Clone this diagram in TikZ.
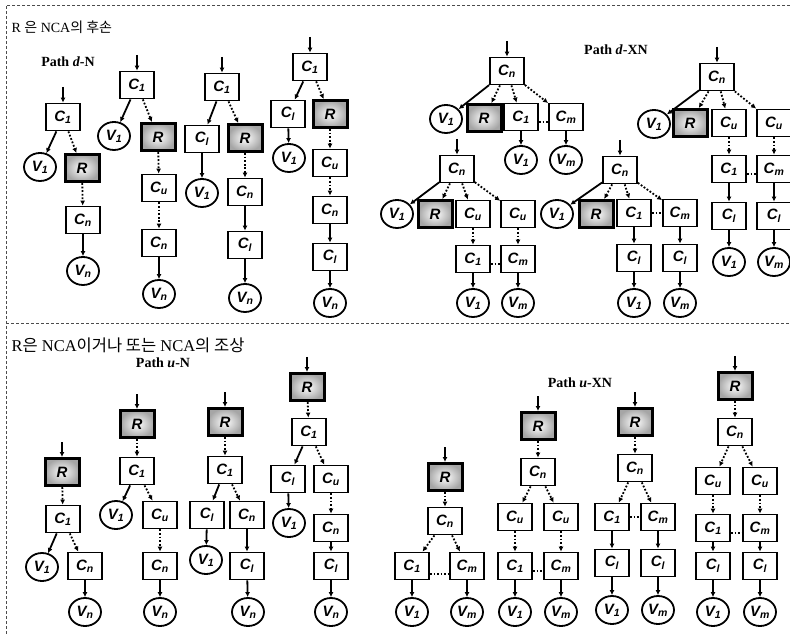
\documentclass[tikz,border=0pt]{standalone}
\usepackage{fontspec}
\setmainfont{Liberation Serif}
\newfontfamily\kr{Noto Sans CJK KR}
\newfontfamily\nodefont{Liberation Sans}
\usetikzlibrary{arrows.meta,shapes.geometric}
\tikzset{
  box/.style={draw, line width=1.8pt, minimum width=34pt, minimum height=27pt, inner sep=0pt, fill=white, font=\nodefont\bfseries\itshape\fontsize{15}{15}\selectfont},
  rbox/.style={box, line width=3pt, shade, shading=radial, inner color=white, outer color=black!35},
  vtx/.style={ellipse, draw, line width=1.8pt, minimum width=32pt, minimum height=28pt, inner sep=0pt, fill=white, font=\nodefont\bfseries\itshape\fontsize{15}{15}\selectfont},
  sarr/.style={-{Latex[length=5pt,width=5pt]}, line width=1.8pt},
  darr/.style={-{Latex[length=5pt,width=5pt]}, line width=1.8pt, dash pattern=on 1.8pt off 1.8pt},
  gap/.style={line width=1.6pt, dash pattern=on 1.6pt off 2pt},
  frame/.style={line width=0.7pt, black!70, densely dashed},
  ttl/.style={anchor=west, font=\fontsize{14}{14}\selectfont},
  pathlbl/.style={font=\bfseries\fontsize{14}{14}\selectfont},
}
\newcommand{\lbl}[2]{#1\textsubscript{#2}}

\begin{document}
\begin{tikzpicture}[x=1pt, y=-1pt]
\useasboundingbox (0,0) rectangle (790,636);
% frame
\draw[frame] (790,5) -- (6,5) -- (6,636);
\draw[frame] (6,323) -- (790,323);
\node[ttl] (top) at (8,27) {R {\kr 은} NCA{\kr 의 후손}};
\node[ttl, font=\fontsize{16.5}{16.5}\selectfont] (bot) at (8,345) {R{\kr 은} NCA{\kr 이거나 또는} NCA{\kr 의 조상}};
\node[pathlbl] (pdn) at (68,62) {Path \textit{d}-N};
\node[pathlbl] (pdxn) at (616,50) {Path \textit{d}-XN};
\node[pathlbl] (pun) at (163,363) {Path \textit{u}-N};
\node[pathlbl] (puxn) at (580,383) {Path \textit{u}-XN};

% ---- Path d-N ----
\coordinate (t1in) at (63,87);
\node[box] (t1c1) at (63,117) {\lbl{C}{1}};
\node[vtx] (t1v1) at (40,167) {\lbl{V}{1}};
\node[rbox] (t1r) at (82,168) {R};
\node[box] (t1cn) at (83,220) {\lbl{C}{n}};
\node[vtx] (t1vn) at (83,271) {\lbl{V}{n}};
\draw[sarr] (t1in) -- (t1c1);
\draw[sarr] (t1c1) -- (t1v1);
\draw[darr] (t1c1) -- (t1r);
\draw[darr] (t1r) -- (t1cn);
\draw[sarr] (t1cn) -- (t1vn);

\coordinate (t2in) at (137,55);
\node[box] (t2c1) at (137,85) {\lbl{C}{1}};
\node[vtx] (t2v1) at (114,136) {\lbl{V}{1}};
\node[rbox] (t2r) at (158,137) {R};
\node[box] (t2cu) at (159,188) {\lbl{C}{u}};
\node[box] (t2cn) at (159,243) {\lbl{C}{n}};
\node[vtx] (t2vn) at (159,294) {\lbl{V}{n}};
\draw[sarr] (t2in) -- (t2c1);
\draw[sarr] (t2c1) -- (t2v1);
\draw[darr] (t2c1) -- (t2r);
\draw[darr] (t2r) -- (t2cu);
\draw[darr] (t2cu) -- (t2cn);
\draw[sarr] (t2cn) -- (t2vn);

\coordinate (t3in) at (222,57);
\node[box] (t3c1) at (222,87) {\lbl{C}{1}};
\node[box] (t3cl) at (202,139) {\lbl{C}{l}};
\node[rbox] (t3r) at (245,138) {R};
\node[vtx] (t3v1) at (202,193) {\lbl{V}{1}};
\node[box] (t3cn) at (245,192) {\lbl{C}{n}};
\node[box] (t3cl2) at (245,245) {\lbl{C}{l}};
\node[vtx] (t3vn) at (245,298) {\lbl{V}{n}};
\draw[sarr] (t3in) -- (t3c1);
\draw[sarr] (t3c1) -- (t3cl);
\draw[darr] (t3c1) -- (t3r);
\draw[sarr] (t3cl) -- (t3v1);
\draw[darr] (t3r) -- (t3cn);
\draw[sarr] (t3cn) -- (t3cl2);
\draw[sarr] (t3cl2) -- (t3vn);

\coordinate (t4in) at (310,37);
\node[box] (t4c1) at (310,67) {\lbl{C}{1}};
\node[box] (t4cl) at (288,114) {\lbl{C}{l}};
\node[rbox] (t4r) at (330,114) {R};
\node[vtx] (t4v1) at (289,158) {\lbl{V}{1}};
\node[box] (t4cu) at (330,163) {\lbl{C}{u}};
\node[box] (t4cn) at (330,210) {\lbl{C}{n}};
\node[box] (t4cl2) at (330,257) {\lbl{C}{l}};
\node[vtx] (t4vn) at (330,303) {\lbl{V}{n}};
\draw[sarr] (t4in) -- (t4c1);
\draw[sarr] (t4c1) -- (t4cl);
\draw[darr] (t4c1) -- (t4r);
\draw[sarr] (t4cl) -- (t4v1);
\draw[darr] (t4r) -- (t4cu);
\draw[darr] (t4cu) -- (t4cn);
\draw[sarr] (t4cn) -- (t4cl2);
\draw[sarr] (t4cl2) -- (t4vn);

% ---- Path d-XN ----
\coordinate (t5in) at (507,41);
\node[box] (t5cn) at (507,71) {\lbl{C}{n}};
\node[vtx] (t5v1) at (446,119) {\lbl{V}{1}};
\node[rbox] (t5r) at (484,118) {R};
\node[box] (t5c1) at (521,117) {\lbl{C}{1}};
\node[box] (t5cm) at (566,117) {\lbl{C}{m}};
\node[vtx] (t5v1b) at (521,160) {\lbl{V}{1}};
\node[vtx] (t5vm) at (566,160) {\lbl{V}{m}};
\draw[sarr] (t5in) -- (t5cn);
\draw[sarr] (t5cn) -- (t5v1);
\draw[darr] (t5cn) -- (t5r);
\draw[darr] (t5cn) -- (t5c1);
\draw[darr] (t5cn) -- (t5cm);
\draw[sarr] (t5c1) -- (t5v1b);
\draw[sarr] (t5cm) -- (t5vm);
\draw[gap] ([yshift=-5pt]t5c1.east) -- ([yshift=-5pt]t5cm.west);

\coordinate (t6in) at (457,139);
\node[box] (t6cn) at (457,169) {\lbl{C}{n}};
\node[vtx] (t6v1) at (397,214) {\lbl{V}{1}};
\node[rbox] (t6r) at (435,214) {R};
\node[box] (t6cu) at (473,214) {\lbl{C}{u}};
\node[box] (t6cu2) at (518,214) {\lbl{C}{u}};
\node[box] (t6c1) at (473,259) {\lbl{C}{1}};
\node[box] (t6cm) at (518,259) {\lbl{C}{m}};
\node[vtx] (t6v1b) at (473,303) {\lbl{V}{1}};
\node[vtx] (t6vm) at (518,303) {\lbl{V}{m}};
\draw[sarr] (t6in) -- (t6cn);
\draw[sarr] (t6cn) -- (t6v1);
\draw[darr] (t6cn) -- (t6r);
\draw[darr] (t6cn) -- (t6cu);
\draw[darr] (t6cn) -- (t6cu2);
\draw[darr] (t6cu) -- (t6c1);
\draw[darr] (t6cu2) -- (t6cm);
\draw[sarr] (t6c1) -- (t6v1b);
\draw[sarr] (t6cm) -- (t6vm);
\draw[gap] ([yshift=-5pt]t6c1.east) -- ([yshift=-5pt]t6cm.west);

\coordinate (t7in) at (620,140);
\node[box] (t7cn) at (620,170) {\lbl{C}{n}};
\node[vtx] (t7v1) at (557,214) {\lbl{V}{1}};
\node[rbox] (t7r) at (596,214) {R};
\node[box] (t7c1) at (634,213) {\lbl{C}{1}};
\node[box] (t7cm) at (680,213) {\lbl{C}{m}};
\node[box] (t7cl) at (634,258) {\lbl{C}{l}};
\node[box] (t7cl2) at (680,258) {\lbl{C}{l}};
\node[vtx] (t7v1b) at (634,303) {\lbl{V}{1}};
\node[vtx] (t7vm) at (680,303) {\lbl{V}{m}};
\draw[sarr] (t7in) -- (t7cn);
\draw[sarr] (t7cn) -- (t7v1);
\draw[darr] (t7cn) -- (t7r);
\draw[darr] (t7cn) -- (t7c1);
\draw[darr] (t7cn) -- (t7cm);
\draw[sarr] (t7c1) -- (t7cl);
\draw[sarr] (t7cm) -- (t7cl2);
\draw[sarr] (t7cl) -- (t7v1b);
\draw[sarr] (t7cl2) -- (t7vm);
\draw[gap] (t7c1.east) -- (t7cm.west);

\coordinate (t8in) at (717,47);
\node[box] (t8cn) at (717,77) {\lbl{C}{n}};
\node[vtx] (t8v1) at (654,124) {\lbl{V}{1}};
\node[rbox] (t8r) at (690,123) {R};
\node[box] (t8cu) at (729,123) {\lbl{C}{u}};
\node[box] (t8cu2) at (774,123) {\lbl{C}{u}};
\node[box] (t8c1) at (729,169) {\lbl{C}{1}};
\node[box] (t8cm) at (774,169) {\lbl{C}{m}};
\node[box] (t8cl) at (729,216) {\lbl{C}{l}};
\node[box] (t8cl2) at (774,216) {\lbl{C}{l}};
\node[vtx] (t8v1b) at (729,262) {\lbl{V}{1}};
\node[vtx] (t8vm) at (774,262) {\lbl{V}{m}};
\draw[sarr] (t8in) -- (t8cn);
\draw[sarr] (t8cn) -- (t8v1);
\draw[darr] (t8cn) -- (t8r);
\draw[darr] (t8cn) -- (t8cu);
\draw[darr] (t8cn) -- (t8cu2);
\draw[darr] (t8cu) -- (t8c1);
\draw[darr] (t8cu2) -- (t8cm);
\draw[sarr] (t8c1) -- (t8cl);
\draw[sarr] (t8cm) -- (t8cl2);
\draw[sarr] (t8cl) -- (t8v1b);
\draw[sarr] (t8cl2) -- (t8vm);
\draw[gap] ([yshift=-5pt]t8c1.east) -- ([yshift=-5pt]t8cm.west);

% ---- Path u-N ----
\coordinate (t9in) at (62,442);
\node[rbox] (t9r) at (62,472) {R};
\node[box] (t9c1) at (63,519) {\lbl{C}{1}};
\node[vtx] (t9v1) at (42,567) {\lbl{V}{1}};
\node[box] (t9cn) at (85,566) {\lbl{C}{n}};
\node[vtx] (t9vn) at (85,612) {\lbl{V}{n}};
\draw[sarr] (t9in) -- (t9r);
\draw[darr] (t9r) -- (t9c1);
\draw[sarr] (t9c1) -- (t9v1);
\draw[darr] (t9c1) -- (t9cn);
\draw[sarr] (t9cn) -- (t9vn);

\coordinate (t10in) at (137,394);
\node[rbox] (t10r) at (137,424) {R};
\node[box] (t10c1) at (137,471) {\lbl{C}{1}};
\node[vtx] (t10v1) at (116,515) {\lbl{V}{1}};
\node[box] (t10cu) at (160,515) {\lbl{C}{u}};
\node[box] (t10cn) at (160,566) {\lbl{C}{n}};
\node[vtx] (t10vn) at (160,612) {\lbl{V}{n}};
\draw[sarr] (t10in) -- (t10r);
\draw[darr] (t10r) -- (t10c1);
\draw[sarr] (t10c1) -- (t10v1);
\draw[darr] (t10c1) -- (t10cu);
\draw[darr] (t10cu) -- (t10cn);
\draw[sarr] (t10cn) -- (t10vn);

\coordinate (t11in) at (225,392);
\node[rbox] (t11r) at (225,422) {R};
\node[box] (t11c1) at (225,470) {\lbl{C}{1}};
\node[box] (t11cl) at (207,515) {\lbl{C}{l}};
\node[box] (t11cn) at (247,515) {\lbl{C}{n}};
\node[vtx] (t11v1) at (206,560) {\lbl{V}{1}};
\node[box] (t11cl2) at (247,566) {\lbl{C}{l}};
\node[vtx] (t11vn) at (248,612) {\lbl{V}{n}};
\draw[sarr] (t11in) -- (t11r);
\draw[darr] (t11r) -- (t11c1);
\draw[sarr] (t11c1) -- (t11cl);
\draw[darr] (t11c1) -- (t11cn);
\draw[sarr] (t11cl) -- (t11v1);
\draw[sarr] (t11cn) -- (t11cl2);
\draw[sarr] (t11cl2) -- (t11vn);

\coordinate (t12in) at (307,357);
\node[rbox] (t12r) at (307,387) {R};
\node[box] (t12c1) at (309,432) {\lbl{C}{1}};
\node[box] (t12cl) at (288,479) {\lbl{C}{l}};
\node[box] (t12cu) at (331,479) {\lbl{C}{u}};
\node[vtx] (t12v1) at (289,523) {\lbl{V}{1}};
\node[box] (t12cn) at (331,528) {\lbl{C}{n}};
\node[box] (t12cl2) at (331,566) {\lbl{C}{l}};
\node[vtx] (t12vn) at (331,612) {\lbl{V}{n}};
\draw[sarr] (t12in) -- (t12r);
\draw[darr] (t12r) -- (t12c1);
\draw[sarr] (t12c1) -- (t12cl);
\draw[darr] (t12c1) -- (t12cu);
\draw[sarr] (t12cl) -- (t12v1);
\draw[darr] (t12cu) -- (t12cn);
\draw[sarr] (t12cn) -- (t12cl2);
\draw[sarr] (t12cl2) -- (t12vn);

% ---- Path u-XN ----
\coordinate (t13in) at (445,447);
\node[rbox] (t13r) at (445,477) {R};
\node[box] (t13cn) at (445,521) {\lbl{C}{n}};
\node[box] (t13c1) at (412,566) {\lbl{C}{1}};
\node[box] (t13cm) at (467,566) {\lbl{C}{m}};
\node[vtx] (t13v1) at (412,612) {\lbl{V}{1}};
\node[vtx] (t13vm) at (467,612) {\lbl{V}{m}};
\draw[sarr] (t13in) -- (t13r);
\draw[darr] (t13r) -- (t13cn);
\draw[darr] (t13cn) -- (t13c1);
\draw[darr] (t13cn) -- (t13cm);
\draw[sarr] (t13c1) -- (t13v1);
\draw[sarr] (t13cm) -- (t13vm);
\draw[gap] ([yshift=-8pt]t13c1.east) -- ([yshift=-8pt]t13cm.west);

\coordinate (t14in) at (538,396);
\node[rbox] (t14r) at (538,426) {R};
\node[box] (t14cn) at (538,472) {\lbl{C}{n}};
\node[box] (t14cu) at (515,517) {\lbl{C}{u}};
\node[box] (t14cu2) at (561,517) {\lbl{C}{u}};
\node[box] (t14c1) at (515,566) {\lbl{C}{1}};
\node[box] (t14cm) at (561,566) {\lbl{C}{m}};
\node[vtx] (t14v1) at (515,612) {\lbl{V}{1}};
\node[vtx] (t14vm) at (561,612) {\lbl{V}{m}};
\draw[sarr] (t14in) -- (t14r);
\draw[darr] (t14r) -- (t14cn);
\draw[darr] (t14cn) -- (t14cu);
\draw[darr] (t14cn) -- (t14cu2);
\draw[darr] (t14cu) -- (t14c1);
\draw[darr] (t14cu2) -- (t14cm);
\draw[sarr] (t14c1) -- (t14v1);
\draw[sarr] (t14cm) -- (t14vm);
\draw[gap] ([yshift=-5pt]t14c1.east) -- ([yshift=-5pt]t14cm.west);

\coordinate (t15in) at (635,392);
\node[rbox] (t15r) at (635,422) {R};
\node[box] (t15cn) at (635,468) {\lbl{C}{n}};
\node[box] (t15c1) at (612,517) {\lbl{C}{1}};
\node[box] (t15cm) at (658,517) {\lbl{C}{m}};
\node[box] (t15cl) at (612,563) {\lbl{C}{l}};
\node[box] (t15cl2) at (658,563) {\lbl{C}{l}};
\node[vtx] (t15v1) at (612,610) {\lbl{V}{1}};
\node[vtx] (t15vm) at (658,610) {\lbl{V}{m}};
\draw[sarr] (t15in) -- (t15r);
\draw[darr] (t15r) -- (t15cn);
\draw[darr] (t15cn) -- (t15c1);
\draw[darr] (t15cn) -- (t15cm);
\draw[sarr] (t15c1) -- (t15cl);
\draw[sarr] (t15cm) -- (t15cl2);
\draw[sarr] (t15cl) -- (t15v1);
\draw[sarr] (t15cl2) -- (t15vm);
\draw[gap] (t15c1.east) -- (t15cm.west);

\coordinate (t16in) at (735,356);
\node[rbox] (t16r) at (735,386) {R};
\node[box] (t16cn) at (735,432) {\lbl{C}{n}};
\node[box] (t16cu) at (713,481) {\lbl{C}{u}};
\node[box] (t16cu2) at (760,481) {\lbl{C}{u}};
\node[box] (t16c1) at (713,528) {\lbl{C}{1}};
\node[box] (t16cm) at (760,528) {\lbl{C}{m}};
\node[box] (t16cl) at (713,566) {\lbl{C}{l}};
\node[box] (t16cl2) at (760,566) {\lbl{C}{l}};
\node[vtx] (t16v1) at (713,612) {\lbl{V}{1}};
\node[vtx] (t16vm) at (760,612) {\lbl{V}{m}};
\draw[sarr] (t16in) -- (t16r);
\draw[darr] (t16r) -- (t16cn);
\draw[darr] (t16cn) -- (t16cu);
\draw[darr] (t16cn) -- (t16cu2);
\draw[darr] (t16cu) -- (t16c1);
\draw[darr] (t16cu2) -- (t16cm);
\draw[sarr] (t16c1) -- (t16cl);
\draw[sarr] (t16cm) -- (t16cl2);
\draw[sarr] (t16cl) -- (t16v1);
\draw[sarr] (t16cl2) -- (t16vm);
\draw[gap] ([yshift=-5pt]t16c1.east) -- ([yshift=-5pt]t16cm.west);
\end{tikzpicture}
\end{document}
